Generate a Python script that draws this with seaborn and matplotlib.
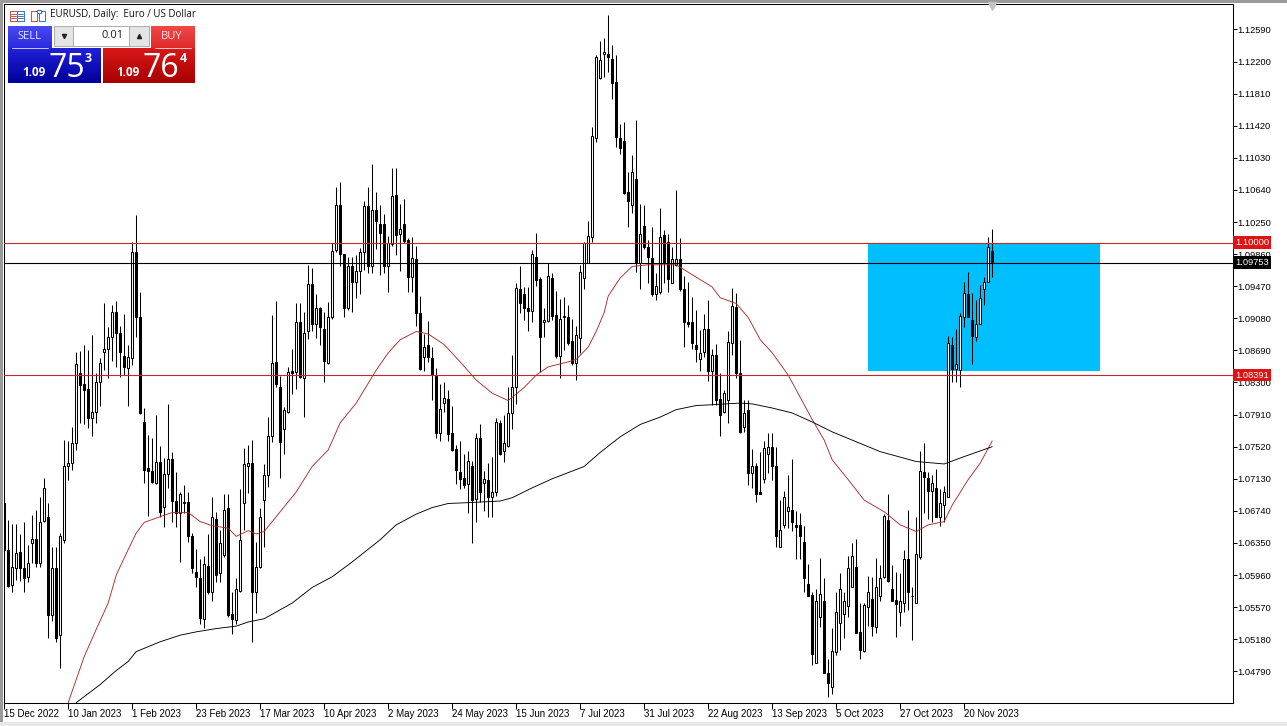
# EURUSD daily candles, MT5 style chart
import matplotlib
matplotlib.use('Agg')
import matplotlib.pyplot as plt
from matplotlib.patches import Rectangle
import numpy as np
import pandas as pd
import seaborn as sns

# candle values
opens = [1.0683,1.0626,1.0584,1.0604,1.0624,1.0605,1.0594,1.0635,1.0640,1.0611,
1.0662,1.0666,1.0547,1.0604,1.0523,1.0639,1.0728,1.0732,1.0757,1.0842,
1.0828,1.0822,1.0787,1.0794,1.0831,1.0867,1.0871,1.0885,1.0916,1.0890,
1.0862,1.0848,1.0860,1.0988,1.0910,1.0782,1.0726,1.0723,1.0708,1.0734,
1.0679,1.0719,1.0737,1.0686,1.0672,1.0683,1.0685,1.0643,1.0600,1.0593,
1.0543,1.0607,1.0575,1.0664,1.0598,1.0621,1.0678,1.0549,1.0542,1.0577,
1.0684,1.0729,1.0732,1.0575,1.0606,1.0687,1.0718,1.0765,1.0855,1.0825,
1.0774,1.0794,1.0844,1.0843,1.0904,1.0836,1.0893,1.0950,1.0901,1.0920,
1.0895,1.0854,1.0910,1.0991,1.1046,1.0986,1.0920,1.0971,1.0952,1.0966,
1.0989,1.1045,1.0971,1.1039,1.1022,1.1023,1.0971,1.0998,1.1058,1.1011,
1.1023,1.1003,1.0958,1.0980,1.0915,1.0861,1.0875,1.0860,1.0838,1.0769,
1.0805,1.0810,1.0769,1.0749,1.0721,1.0714,1.0707,1.0729,1.0689,1.0762,
1.0708,1.0712,1.0691,1.0697,1.0781,1.0747,1.0753,1.0793,1.0825,1.0944,
1.0938,1.0921,1.0917,1.0983,1.0956,1.0903,1.0905,1.0957,1.0912,1.0862,
1.0909,1.0910,1.0881,1.0854,1.0884,1.0957,1.0975,1.1007,1.1127,1.1200,
1.1229,1.1229,1.1223,1.1195,1.1127,1.1124,1.1062,1.1046,1.1077,1.0975,
1.1020,1.0995,1.0981,1.0937,1.0940,1.1009,1.1001,1.0951,1.0973,1.0980,
1.0944,1.0904,1.0903,1.0875,1.0859,1.0867,1.0895,1.0844,1.0864,1.0810,
1.0794,1.0809,1.0878,1.0922,1.0842,1.0776,1.0797,1.0720,1.0728,1.0697,
1.0713,1.0743,1.0752,1.0728,1.0630,1.0657,1.0674,1.0675,1.0657,1.0657,
1.0636,1.0585,1.0572,1.0489,1.0545,1.0565,1.0477,1.0460,1.0502,1.0538,
1.0549,1.0559,1.0581,1.0606,1.0527,1.0504,1.0557,1.0567,1.0533,1.0571,
1.0594,1.0663,1.0579,1.0566,1.0551,1.0562,1.0616,1.0571,1.0562,1.0618,
1.0721,1.0714,1.0698,1.0702,1.0666,1.0681,1.0691,1.0875,1.0847,1.0845,
1.0910,1.0937,1.0906,1.0885,1.0901,1.0944,1.0952,1.0990]
closes = [1.0627,1.0583,1.0606,1.0623,1.0605,1.0593,1.0611,1.0640,1.0611,1.0661,
1.0702,1.0547,1.0604,1.0520,1.0644,1.0728,1.0732,1.0757,1.0853,1.0827,
1.0821,1.0787,1.0794,1.0831,1.0854,1.0871,1.0885,1.0916,1.0890,1.0867,
1.0849,1.0861,1.0989,1.0909,1.0793,1.0724,1.0723,1.0709,1.0734,1.0673,
1.0719,1.0737,1.0686,1.0672,1.0694,1.0685,1.0643,1.0605,1.0594,1.0544,
1.0610,1.0575,1.0666,1.0596,1.0635,1.0675,1.0547,1.0543,1.0579,1.0639,
1.0731,1.0732,1.0576,1.0606,1.0666,1.0718,1.0765,1.0854,1.0828,1.0758,
1.0797,1.0843,1.0842,1.0904,1.0837,1.0890,1.0950,1.0901,1.0920,1.0897,
1.0856,1.0910,1.0990,1.1046,1.0986,1.0921,1.0972,1.0952,1.0966,1.0989,
1.1045,1.0971,1.1039,1.1026,1.1012,1.0971,1.1000,1.1057,1.1009,1.1017,
1.1002,1.0958,1.0981,1.0915,1.0847,1.0873,1.0861,1.0839,1.0769,1.0798,
1.0811,1.0768,1.0748,1.0724,1.0713,1.0706,1.0735,1.0687,1.0762,1.0697,
1.0713,1.0691,1.0697,1.0782,1.0743,1.0757,1.0793,1.0824,1.0945,1.0926,
1.0920,1.0917,1.0986,1.0955,1.0885,1.0906,1.0960,1.0911,1.0862,1.0907,
1.0911,1.0878,1.0854,1.0888,1.0964,1.1000,1.1008,1.1130,1.1226,1.1222,
1.1231,1.1226,1.1194,1.1128,1.1115,1.1060,1.1050,1.1086,1.0975,1.1011,
1.0995,1.0983,1.0937,1.0947,1.1007,1.0975,1.0956,1.0980,1.0980,1.0943,
1.0904,1.0901,1.0878,1.0871,1.0866,1.0895,1.0844,1.0864,1.0809,1.0791,
1.0817,1.0879,1.0923,1.0842,1.0770,1.0793,1.0720,1.0728,1.0695,1.0695,
1.0751,1.0752,1.0728,1.0643,1.0651,1.0691,1.0679,1.0660,1.0655,1.0643,
1.0592,1.0571,1.0500,1.0565,1.0573,1.0477,1.0465,1.0504,1.0551,1.0579,
1.0565,1.0605,1.0619,1.0526,1.0505,1.0560,1.0576,1.0534,1.0582,1.0593,
1.0668,1.0589,1.0565,1.0561,1.0564,1.0615,1.0576,1.0570,1.0622,1.0723,
1.0715,1.0698,1.0708,1.0667,1.0684,1.0697,1.0878,1.0847,1.0853,1.0911,
1.0939,1.0910,1.0887,1.0901,1.0933,1.0952,1.0995,1.0975]
highs = [1.0683,1.0663,1.0658,1.0658,1.0646,1.0660,1.0633,1.0669,1.0675,1.0691,
1.0714,1.0684,1.0630,1.0630,1.0647,1.0760,1.0759,1.0776,1.0867,1.0868,
1.0875,1.0870,1.0888,1.0841,1.0860,1.0927,1.0898,1.0924,1.0929,1.0899,
1.0913,1.0875,1.1001,1.1033,1.0940,1.0799,1.0766,1.0762,1.0791,1.0753,
1.0738,1.0804,1.0745,1.0721,1.0697,1.0706,1.0697,1.0647,1.0628,1.0615,
1.0619,1.0646,1.0691,1.0673,1.0651,1.0695,1.0695,1.0575,1.0592,1.0701,
1.0751,1.0754,1.0760,1.0636,1.0677,1.0731,1.0788,1.0912,1.0929,1.0838,
1.0800,1.0849,1.0871,1.0927,1.0926,1.0916,1.0973,1.0969,1.0938,1.0922,
1.0916,1.0928,1.1000,1.1068,1.1074,1.0986,1.0983,1.0983,1.0985,1.0994,
1.1050,1.1067,1.1095,1.1062,1.1046,1.1035,1.1008,1.1091,1.1091,1.1047,
1.1053,1.1006,1.1007,1.0996,1.0935,1.0889,1.0905,1.0873,1.0848,1.0828,
1.0831,1.0821,1.0802,1.0754,1.0759,1.0743,1.0747,1.0735,1.0769,1.0779,
1.0723,1.0732,1.0740,1.0787,1.0785,1.0790,1.0824,1.0864,1.0951,1.0971,
1.0946,1.0946,1.0991,1.1012,1.0958,1.0921,1.0975,1.0963,1.0941,1.0932,
1.0934,1.0924,1.0907,1.0899,1.0973,1.1001,1.1026,1.1140,1.1228,1.1245,
1.1249,1.1276,1.1240,1.1228,1.1144,1.1147,1.1086,1.1107,1.1149,1.1047,
1.1046,1.1003,1.1019,1.0963,1.1042,1.1015,1.1011,1.0995,1.1064,1.1005,
1.0960,1.0952,1.0934,1.0918,1.0894,1.0913,1.0930,1.0871,1.0877,1.0842,
1.0821,1.0892,1.0945,1.0939,1.0882,1.0809,1.0809,1.0749,1.0732,1.0745,
1.0759,1.0769,1.0769,1.0752,1.0687,1.0698,1.0718,1.0737,1.0674,1.0672,
1.0656,1.0610,1.0575,1.0579,1.0617,1.0593,1.0494,1.0532,1.0575,1.0599,
1.0575,1.0619,1.0635,1.0640,1.0562,1.0562,1.0595,1.0594,1.0617,1.0608,
1.0670,1.0694,1.0608,1.0600,1.0598,1.0626,1.0675,1.0581,1.0667,1.0747,
1.0757,1.0721,1.0718,1.0725,1.0700,1.0704,1.0887,1.0885,1.0895,1.0915,
1.0952,1.0964,1.0939,1.0930,1.0949,1.0958,1.1007,1.1017]
lows = [1.0615,1.0582,1.0576,1.0590,1.0589,1.0575,1.0587,1.0611,1.0606,1.0606,
1.0661,1.0520,1.0540,1.0515,1.0483,1.0635,1.0712,1.0724,1.0748,1.0781,
1.0780,1.0775,1.0765,1.0781,1.0802,1.0845,1.0836,1.0856,1.0849,1.0837,
1.0839,1.0802,1.0851,1.0885,1.0792,1.0708,1.0668,1.0708,1.0707,1.0667,
1.0655,1.0702,1.0660,1.0655,1.0612,1.0672,1.0636,1.0599,1.0581,1.0536,
1.0532,1.0573,1.0565,1.0588,1.0588,1.0618,1.0545,1.0525,1.0537,1.0575,
1.0651,1.0696,1.0515,1.0550,1.0605,1.0630,1.0703,1.0758,1.0824,1.0714,
1.0743,1.0793,1.0816,1.0822,1.0836,1.0788,1.0883,1.0892,1.0884,1.0875,
1.0830,1.0853,1.0907,1.0988,1.0971,1.0909,1.0918,1.0916,1.0933,1.0938,
1.0967,1.0963,1.0963,1.0992,1.0961,1.0963,1.0940,1.0996,1.0985,1.0966,
1.1000,1.0940,1.0940,1.0899,1.0845,1.0844,1.0855,1.0809,1.0762,1.0759,
1.0794,1.0759,1.0747,1.0707,1.0701,1.0702,1.0672,1.0635,1.0661,1.0685,
1.0674,1.0667,1.0667,1.0692,1.0742,1.0734,1.0752,1.0774,1.0804,1.0915,
1.0906,1.0892,1.0904,1.0947,1.0843,1.0885,1.0903,1.0906,1.0860,1.0836,
1.0870,1.0876,1.0851,1.0833,1.0866,1.0943,1.0975,1.1001,1.1122,1.1199,
1.1201,1.1207,1.1175,1.1116,1.1108,1.1059,1.1019,1.1036,1.0964,1.0944,
1.0992,1.0951,1.0935,1.0930,1.0937,1.0951,1.0940,1.0951,1.0971,1.0941,
1.0873,1.0897,1.0871,1.0855,1.0844,1.0861,1.0832,1.0803,1.0803,1.0765,
1.0793,1.0781,1.0864,1.0836,1.0769,1.0770,1.0706,1.0702,1.0685,1.0694,
1.0708,1.0720,1.0711,1.0630,1.0630,1.0653,1.0653,1.0649,1.0616,1.0615,
1.0575,1.0570,1.0487,1.0489,1.0533,1.0477,1.0448,1.0451,1.0499,1.0505,
1.0520,1.0545,1.0581,1.0526,1.0494,1.0502,1.0534,1.0522,1.0526,1.0564,
1.0593,1.0587,1.0565,1.0521,1.0534,1.0551,1.0554,1.0517,1.0562,1.0615,
1.0672,1.0664,1.0660,1.0666,1.0656,1.0661,1.0691,1.0831,1.0830,1.0825,
1.0897,1.0909,1.0853,1.0881,1.0901,1.0924,1.0952,1.0958]

# moving averages, read at a set of bars
red_ma_bars = [16,20,23,26,28,31,33,35,39,42,46,49,52,56,58,61,63,65,69,73,77,81,84,88,90,93,96,99,103,106,
    110,114,118,122,126,130,133,136,141,143,146,148,150,151,154,157,161,168,172,174,177,179,183,186,189,192,
    196,198,202,205,207,211,215,220,224,228,231,235,237,241,244,247]
red_ma_vals = [1.0441,1.0497,1.0530,1.0562,1.0596,1.0627,1.0647,1.0660,1.0667,1.0672,1.0672,1.0661,1.0656,1.0653,
    1.0643,1.0650,1.0646,1.0649,1.0673,1.0697,1.0728,1.0748,1.0781,1.0805,1.0821,1.0845,1.0866,1.0882,1.0892,1.0889,
    1.0876,1.0855,1.0833,1.0817,1.0808,1.0824,1.0839,1.0849,1.0855,1.0858,1.0873,1.0892,1.0915,1.0935,1.0957,1.0971,
    1.0973,1.0973,1.0961,1.0955,1.0946,1.0933,1.0926,1.0909,1.0882,1.0866,1.0839,1.0821,1.0785,1.0760,1.0736,1.0712,
    1.0687,1.0673,1.0657,1.0649,1.0657,1.0661,1.0681,1.0712,1.0732,1.0759]
black_ma_bars = [18,24,28,31,33,39,44,48,53,58,61,65,72,77,82,87,94,98,103,107,111,116,124,127,132,137,145,149,
    154,159,164,168,173,177,184,187,192,197,202,207,212,219,228,235,240,247]
black_ma_vals = [1.0441,1.0463,1.0480,1.0491,1.0503,1.0515,1.0523,1.0527,1.0531,1.0534,1.0539,1.0543,1.0562,1.0581,
    1.0594,1.0612,1.0639,1.0657,1.0670,1.0678,1.0683,1.0684,1.0686,1.0690,1.0702,1.0713,1.0728,1.0745,1.0764,1.0779,
    1.0788,1.0797,1.0802,1.0803,1.0805,1.0804,1.0799,1.0793,1.0782,1.0770,1.0760,1.0746,1.0734,1.0731,1.0740,1.0752]

date_labels = ['15 Dec 2022','10 Jan 2023','1 Feb 2023','23 Feb 2023','17 Mar 2023','10 Apr 2023','2 May 2023',
    '24 May 2023','15 Jun 2023','7 Jul 2023','31 Jul 2023','22 Aug 2023','13 Sep 2023','5 Oct 2023','27 Oct 2023',
    '20 Nov 2023']
price_ticks = [1.12590,1.12200,1.11810,1.11420,1.11030,1.10640,1.10250,1.09860,1.09470,1.09080,1.08690,1.08300,
    1.07910,1.07520,1.07130,1.06740,1.06350,1.05960,1.05570,1.05180,1.04790]
resistance = 1.10000
support = 1.08391
last_price = 1.09753
zone_top = 1.1000
zone_bottom = 1.0844

W, H = 1287, 726
axis_font = ['Liberation Sans', 'DejaVu Sans']
panel_font = ['Open Sans', 'DejaVu Sans']

sns.set_style('white')
plt.rcParams['font.family'] = axis_font

df = pd.DataFrame({'open': opens, 'high': highs, 'low': lows, 'close': closes})
df['bar'] = np.arange(len(df))
up = df[df['close'] >= df['open']]
down = df[df['close'] < df['open']]

fig = plt.figure(figsize=(W / 100, H / 100), dpi=100, facecolor='white')
ax = fig.add_axes([3.7 / W, 1 - 702.9 / H, 1229 / W, 699 / H])

# blue zone goes under the candles
ax.add_patch(Rectangle((215.9, zone_bottom), 58, zone_top - zone_bottom, facecolor='#00bfff', edgecolor='none', zorder=1))

# wicks and bodies
ax.vlines(df['bar'], df['low'], df['high'], color='black', linewidth=0.75, zorder=2)
ax.bar(up['bar'], (up['close'] - up['open']).clip(lower=0.00005), bottom=up['open'], width=0.55,
       facecolor='white', edgecolor='black', linewidth=0.75, zorder=3)
ax.bar(down['bar'], down['open'] - down['close'], bottom=down['close'], width=0.6,
       facecolor='black', edgecolor='black', linewidth=0.75, zorder=3)

# moving averages
red_df = pd.DataFrame({'bar': red_ma_bars, 'price': red_ma_vals})
black_df = pd.DataFrame({'bar': black_ma_bars, 'price': black_ma_vals})
sns.lineplot(data=red_df, x='bar', y='price', color='#b02a2a', linewidth=0.65, estimator=None, ax=ax, zorder=4)
sns.lineplot(data=black_df, x='bar', y='price', color='black', linewidth=0.65, estimator=None, ax=ax, zorder=4)

# horizontal levels
ax.axhline(resistance, color='#c02a2a', linewidth=0.8, zorder=5)
ax.axhline(support, color='#c02a2a', linewidth=0.8, zorder=5)
ax.axhline(last_price, color='black', linewidth=0.8, zorder=5)

ax.set_xlim(-0.125, 307.125)
ax.set_ylim(1.04407, 1.12900)
ax.set_xlabel('')
ax.set_ylabel('')
ax.set_xticks(np.arange(len(date_labels)) * 16)
ax.set_xticklabels(date_labels, ha='left', fontsize=7, color='black')
ax.yaxis.tick_right()
ax.set_yticks(price_ticks)
ax.set_yticklabels(['%.5f' % p for p in price_ticks], fontsize=6.7, color='black')
ax.tick_params(axis='x', direction='out', length=4, width=0.75, pad=0.5, bottom=True, colors='black')
ax.tick_params(axis='y', direction='out', length=3, width=0.75, pad=0.5, right=True, colors='black')
for s in ax.spines.values():
    s.set_visible(True)
    s.set_color('black')
    s.set_linewidth(0.75)

# price tags on the right side
tags = [(resistance, '1.10000', '#e01212'), (last_price, '1.09753', 'black'), (support, '1.08391', '#e01212')]
for price, txt, col in tags:
    ax.text(1.0022, price, txt, transform=ax.get_yaxis_transform(), fontsize=6.7, color='white', va='center', ha='left',
            bbox=dict(facecolor=col, edgecolor='none', pad=1.4), zorder=10, clip_on=False)

# overlay in pixels for the trade panel, title and window edges
ov = fig.add_axes([0, 0, 1, 1], zorder=20)
ov.set_xlim(0, W)
ov.set_ylim(H, 0)
ov.axis('off')
ov.patch.set_alpha(0)

def gradient(x0, x1, y0, y1, c0, c1):
    c0 = np.array(matplotlib.colors.to_rgb(c0))
    c1 = np.array(matplotlib.colors.to_rgb(c1))
    t = np.linspace(0, 1, 32)[:, None, None]
    img = c0[None, None, :] * (1 - t) + c1[None, None, :] * t
    ov.imshow(img, extent=(x0, x1, y1, y0), aspect='auto', zorder=2)

def box(x0, y0, x1, y1, col, z=1, edge='none'):
    ov.add_patch(Rectangle((x0, y0), x1 - x0, y1 - y0, facecolor=col, edgecolor=edge, linewidth=0.75, zorder=z))

# window edges
box(0, 0, W, 2.5, '#9a9a9a')
box(0, 0, 2.5, H, '#9a9a9a')
box(0, 722, W, H, '#e8e8e8')

# chart title and little icons
ov.text(50, 15, 'EURUSD, Daily:  Euro / US Dollar', fontsize=7, va='center', ha='left', color='#111111', family=panel_font)
box(9.5, 10.5, 16.5, 20.5, 'white', 3, '#c85050')
box(16.5, 10.5, 23.5, 20.5, 'white', 3, '#3a7ab8')
for yy in [13.5, 15.5, 17.5]:
    ov.plot([10.5, 15.5], [yy, yy], color='#c85050', lw=0.7, zorder=4)
    ov.plot([17.5, 22.5], [yy, yy], color='#3a7ab8', lw=0.7, zorder=4)
box(30.5, 10.5, 36.5, 20.5, 'white', 3, '#c85050')
box(38.5, 10.5, 44.5, 20.5, 'white', 3, '#3a7ab8')
box(36.5, 9.5, 40.5, 13, 'white', 3, '#3a7ab8')

# SELL and BUY panels
gradient(8, 52, 26, 48, '#4a4af0', '#2a2ae0')
gradient(8, 101, 48, 83, '#2020d8', '#00009a')
gradient(151, 195, 26, 48, '#f04848', '#e02a2a')
gradient(103, 195, 48, 83, '#d81818', '#a80000')
ov.plot([12, 48], [47.5, 47.5], color='#c8c8ff', lw=0.7, zorder=4)
ov.plot([155, 191], [47.5, 47.5], color='#ffc8c8', lw=0.7, zorder=4)
ov.text(29, 36.5, 'SELL', color='#e8e8ff', fontsize=8, ha='center', va='center', zorder=5, family=panel_font)
ov.text(172, 36.5, 'BUY', color='#ffe0e0', fontsize=8, ha='center', va='center', zorder=5, family=panel_font)

# lot spinner
box(54, 26, 73, 46, '#e4e4e4', 3, '#b0b0b0')
box(73, 26, 129, 46, 'white', 3, '#b0b0b0')
box(129, 26, 149, 46, '#e4e4e4', 3, '#b0b0b0')
ov.text(124, 36, '0.01', fontsize=8, ha='right', va='center', color='#222222', zorder=5, family=panel_font)
ov.plot([63.5], [36], marker='v', color='#222222', markersize=3, zorder=5)
ov.plot([138.5], [36], marker='^', color='#222222', markersize=3, zorder=5)

# prices in the panels
ov.text(22, 72, '1.09', color='white', fontsize=8.5, fontweight='bold', va='center', ha='left', zorder=5, family=panel_font)
ov.text(48, 68.5, '75', color='white', fontsize=23, va='center', ha='left', zorder=5, family=panel_font)
ov.text(85, 59, '3', color='white', fontsize=9, fontweight='bold', va='center', ha='left', zorder=5, family=panel_font)
ov.text(116, 72, '1.09', color='white', fontsize=8.5, fontweight='bold', va='center', ha='left', zorder=5, family=panel_font)
ov.text(142, 68.5, '76', color='white', fontsize=23, va='center', ha='left', zorder=5, family=panel_font)
ov.text(180, 59, '4', color='white', fontsize=9, fontweight='bold', va='center', ha='left', zorder=5, family=panel_font)

# small grey marker at the top of the chart
ov.plot([992], [6], marker='v', color='#c4c4c4', markersize=6, zorder=5)

ov.set_xlim(0, W)
ov.set_ylim(H, 0)

fig.savefig('out.png', dpi=100)
